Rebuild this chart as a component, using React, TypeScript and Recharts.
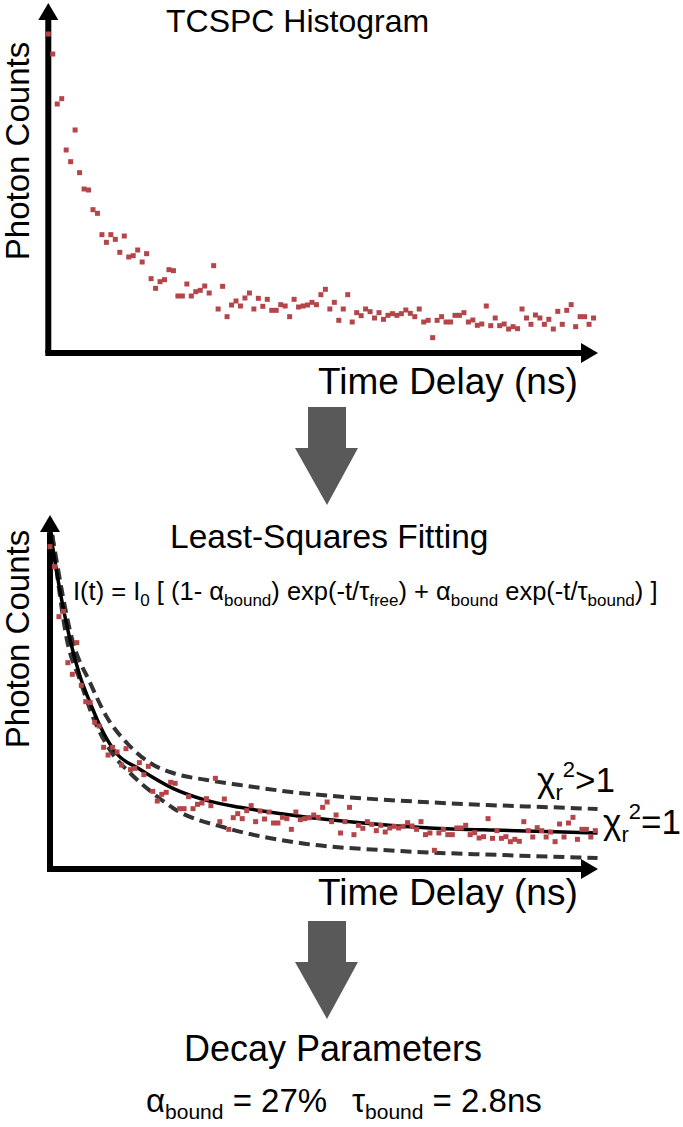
import { ComposedChart, Scatter, Line, XAxis, YAxis, ReferenceLine, ReferenceDot } from "recharts";

// TCSPC histogram, one value per 0.1 ns bin
const BIN_NS = 0.1;
const photonCounts = [
	957, 897, 747, 763, 609, 574, 669, 541, 492, 489, 430, 419, 355, 332, 355, 341, 302, 351, 288, 292,
	309, 273, 298, 223, 194, 214, 220, 250, 247, 171, 171, 207, 171, 184, 188, 201, 180, 262, 132, 200,
	109, 144, 156, 141, 165, 180, 132, 164, 140, 161, 128, 128, 145, 141, 109, 161, 138, 141, 144, 152,
	145, 175, 191, 132, 152, 98, 132, 175, 93, 121, 112, 132, 124, 105, 121, 101, 113, 118, 113, 118,
	129, 119, 109, 132, 93, 98, 46, 98, 109, 93, 93, 113, 113, 121, 93, 99, 83, 87, 141, 82,
	105, 82, 87, 72, 79, 73, 132, 105, 86, 114, 105, 86, 101, 72, 125, 86, 128, 145, 79, 109,
	109, 86, 105,
];

// least-squares fit (chi_r^2 = 1) and two poorer fits (chi_r^2 > 1)
const fitTime = [0, 0.22, 0.45, 0.67, 0.9, 1.12, 1.48, 2.0, 2.75, 3.5, 4.25, 5.5, 7.0, 8.5, 10.1, 11.3, 12.25];
const fitCounts = [1007, 827, 677, 569, 488, 419, 338, 290, 232, 196, 175, 150, 128, 113, 106, 102, 98];
const upperTime = [0.05, 0.5, 0.9, 1.27, 1.72, 2.24, 2.75, 3.51, 4.25, 5.53, 7.0, 8.5, 9.78, 11.26, 12.25];
const upperCounts = [992, 677, 548, 446, 368, 308, 278, 257, 242, 219, 202, 190, 182, 175, 170];
const lowerTime = [0.05, 0.38, 0.67, 0.96, 1.34, 1.79, 2.3, 2.75, 4.03, 5.59, 7.83, 10.07, 12.25];
const lowerCounts = [992, 677, 557, 446, 347, 278, 218, 173, 110, 68, 44, 32, 23];

const bins = photonCounts.map((c, i) => ({ t: +(i * BIN_NS).toFixed(1), counts: c }));
const fit = fitTime.map((t, i) => ({ t, counts: fitCounts[i] }));
const upper = upperTime.map((t, i) => ({ t, counts: upperCounts[i] }));
const lower = lowerTime.map((t, i) => ({ t, counts: lowerCounts[i] }));

const DOT = "#b4464a";
const FONT = "'Liberation Sans', Arial, sans-serif";

const square = (p: any) => <rect x={p.cx - 2.5} y={p.cy - 2.5} width={5} height={5} fill={DOT} />;
const upHead = (p: any) => (
	<polygon points={`${p.cx},${p.cy} ${p.cx - 10},${p.cy + 17} ${p.cx + 10},${p.cy + 17}`} fill="#000" />
);
const rightHead = (p: any) => (
	<polygon points={`${p.cx},${p.cy} ${p.cx - 17},${p.cy - 10} ${p.cx - 17},${p.cy + 10}`} fill="#000" />
);

function Histogram() {
	return (
		<ComposedChart width={683} height={420} data={bins} margin={{ top: 3, right: 85, bottom: 67, left: 48.3 }}>
			<XAxis type="number" dataKey="t" domain={[0, 12.3]} hide />
			<YAxis type="number" domain={[0, 1050]} hide />
			<Scatter dataKey="counts" shape={square} isAnimationActive={false} />
			<ReferenceLine segment={[{ x: 0, y: 0 }, { x: 0, y: 1000 }]} stroke="#000" strokeWidth={6} />
			<ReferenceLine segment={[{ x: 0, y: 0 }, { x: 11.95, y: 0 }]} stroke="#000" strokeWidth={6} strokeLinecap="square" />
			<ReferenceDot x={0} y={1050} shape={upHead} />
			<ReferenceDot x={12.3} y={0} shape={rightHead} />
		</ComposedChart>
	);
}

function Fitting() {
	return (
		<ComposedChart width={683} height={420} data={bins} margin={{ top: 3, right: 85, bottom: 63, left: 50 }}>
			<XAxis type="number" dataKey="t" domain={[0, 12.26]} hide />
			<YAxis type="number" domain={[-10, 1052]} hide />
			<Scatter dataKey="counts" shape={square} isAnimationActive={false} />
			<Line data={upper} dataKey="counts" type="monotone" stroke="#333" strokeWidth={4} strokeDasharray="11 6" dot={false} isAnimationActive={false} />
			<Line data={lower} dataKey="counts" type="monotone" stroke="#333" strokeWidth={4} strokeDasharray="11 6" dot={false} isAnimationActive={false} />
			<Line data={fit} dataKey="counts" type="monotone" stroke="#000" strokeWidth={3.5} dot={false} isAnimationActive={false} />
			<ReferenceLine segment={[{ x: 0, y: -10 }, { x: 0, y: 1000 }]} stroke="#000" strokeWidth={6} />
			<ReferenceLine segment={[{ x: 0, y: -10 }, { x: 11.92, y: -10 }]} stroke="#000" strokeWidth={6} strokeLinecap="square" />
			<ReferenceDot x={0} y={1052} shape={upHead} />
			<ReferenceDot x={12.26} y={-10} shape={rightHead} />
		</ComposedChart>
	);
}

const BigArrow = ({ y }: { y: number }) => (
	<polygon
		points={`308,${y} 346,${y} 346,${y + 41} 358,${y + 41} 327,${y + 98} 295,${y + 41} 308,${y + 41}`}
		fill="#595959"
	/>
);

export default function App() {
	return (
		<div style={{ position: "absolute", top: 0, left: 0, width: 683, height: 1127, background: "#fff", fontFamily: FONT }}>
			<div style={{ position: "absolute", top: 0, left: 0 }}>
				<Histogram />
			</div>
			<div style={{ position: "absolute", top: 512, left: 0 }}>
				<Fitting />
			</div>
			<svg width={683} height={1127} style={{ position: "absolute", top: 0, left: 0, pointerEvents: "none" }} fontFamily={FONT} fill="#000">
				<text x={166} y={32} fontSize={32}>TCSPC Histogram</text>
				<text transform="translate(29,151) rotate(-90)" fontSize={33} textAnchor="middle">Photon Counts</text>
				<text x={318} y={394} fontSize={37}>Time Delay (ns)</text>
				<BigArrow y={407} />

				<text x={170} y={548} fontSize={33.5}>Least-Squares Fitting</text>
				<text x={73} y={600} fontSize={25.5} xmlSpace="preserve">
					I(t) = I<tspan dy={6} fontSize={17}>0</tspan><tspan dy={-6}> [ (1- α</tspan>
					<tspan dy={6} fontSize={17}>bound</tspan><tspan dy={-6}>) exp(-t/τ</tspan>
					<tspan dy={6} fontSize={17}>free</tspan><tspan dy={-6}>) + α</tspan>
					<tspan dy={6} fontSize={17}>bound</tspan><tspan dy={-6}> exp(-t/τ</tspan>
					<tspan dy={6} fontSize={17}>bound</tspan><tspan dy={-6}>) ]</tspan>
				</text>
				<text transform="translate(29,639) rotate(-90)" fontSize={33} textAnchor="middle">Photon Counts</text>
				<text x={537} y={792} fontSize={35}>
					χ<tspan dy={8} fontSize={22}>r</tspan><tspan dy={-23} fontSize={22}>2</tspan><tspan dy={15}>&gt;1</tspan>
				</text>
				<text x={603} y={834} fontSize={35}>
					χ<tspan dy={8} fontSize={22}>r</tspan><tspan dy={-23} fontSize={22}>2</tspan><tspan dy={15}>=1</tspan>
				</text>
				<text x={318} y={905} fontSize={37}>Time Delay (ns)</text>
				<BigArrow y={921} />

				<text x={184} y={1061} fontSize={36}>Decay Parameters</text>
				<text x={146} y={1112} fontSize={33}>
					α<tspan dy={7} fontSize={21}>bound</tspan><tspan dy={-7}> = 27%</tspan>
				</text>
				<text x={352} y={1112} fontSize={33}>
					τ<tspan dy={7} fontSize={21}>bound</tspan><tspan dy={-7}> = 2.8ns</tspan>
				</text>
			</svg>
		</div>
	);
}
